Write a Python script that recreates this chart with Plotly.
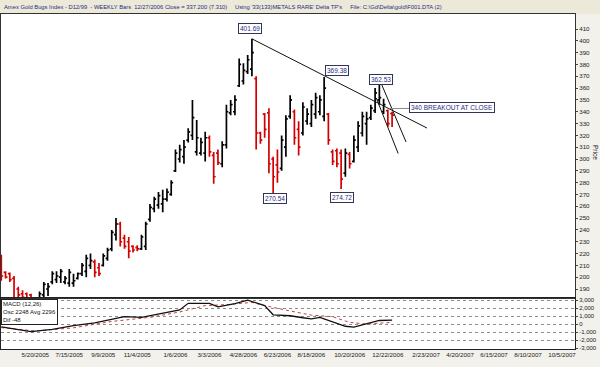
import pandas as pd
import plotly.graph_objects as go

# ---------------- data ----------------
bar_start = "2005-03-25"   # first weekly bar (Fridays)
opens = [218, 204, 203, 199, 190, 186, 186, 185, 172, 176, 185, 190, 196, 198, 200, 196, 195, 195, 199, 203,
         205, 210, 213, 208, 210, 216, 224, 236, 245, 233, 230, 226, 225, 224, 226, 249, 258, 261, 262, 266,
         270, 290, 300, 302, 316, 320, 306, 305, 305, 318, 303, 305, 296, 312, 339, 340, 362, 366, 374, 376,
         368, 322, 338, 339, 300, 295, 292, 310, 336, 340, 325, 322, 332, 330, 338, 340, 336, 338, 306, 307,
         305, 288, 304, 298, 310, 322, 330, 335, 341, 350, 340, 341, 338.5]
highs = [219, 205, 204, 201, 192, 189, 187, 186, 180, 188, 196, 195, 205, 205, 207, 201, 207, 203, 204, 212,
         219, 220, 215, 212, 220, 225, 240, 250, 247, 236, 234, 227, 227, 236, 247, 262, 268, 272, 274, 275,
         282, 308, 312, 316, 326, 350, 333, 318, 323, 320, 306, 308, 315, 346, 350, 354, 385, 381, 388, 401.69,
         370, 323, 339, 343, 302, 308, 320, 337, 354, 342, 332, 348, 343, 350, 356, 354, 369.38, 339, 308, 309,
         308, 309, 306, 320, 332, 340, 340, 346, 360, 362.53, 351, 342, 340]
lows = [197, 199, 196, 178, 176, 175, 172, 170, 165, 172, 180, 184, 194, 195, 195, 194, 192, 192, 198, 201,
        200, 207, 200, 201, 209, 214, 222, 231, 226, 224, 216, 221, 222, 223, 223, 247, 255, 258, 255, 264,
        269, 289, 297, 296, 314, 316, 303, 303, 298, 302, 279, 295, 293, 309, 337, 337, 361, 363, 372, 370,
        308, 313, 318, 288, 270.54, 280, 290, 302, 334, 312, 303, 320, 329, 327, 334, 337, 332, 312, 295, 293,
        274.72, 285, 292, 297, 306, 319, 312, 333, 339, 346, 338, 327, 327]
closes = [201, 200, 198, 181, 185, 183, 180, 174, 176, 186, 194, 192, 203, 201, 205, 199, 204, 197, 203, 210,
          216, 214, 204, 203, 218, 223, 238, 245, 230, 226, 222, 223, 224, 234, 245, 259, 266, 269, 266, 272,
          280, 305, 308, 310, 323, 335, 318, 314, 318, 306, 285, 297, 312, 340, 346, 350, 380, 375, 384, 390,
          322, 316, 325, 296, 285, 289, 316, 334, 350, 318, 310, 344, 338, 346, 352, 350, 360, 316, 298, 296,
          283, 305, 296, 316, 328, 336, 334, 343, 356, 352, 346, 330, 337.2]

macd_dates = ["2005-03-25", "2005-05-13", "2005-06-17", "2005-07-22", "2005-08-26", "2005-09-23",
              "2005-10-14", "2005-11-11", "2005-12-16", "2006-01-13", "2006-01-27", "2006-03-03",
              "2006-03-17", "2006-04-14", "2006-05-05", "2006-06-02", "2006-06-16", "2006-07-14",
              "2006-08-04", "2006-08-18", "2006-09-01", "2006-09-22", "2006-10-13", "2006-10-27",
              "2006-11-17", "2006-12-08", "2006-12-29"]
macd_vals = [-350, -950, -660, -200, 150, 600, 910, 830, 1320, 1750, 2580, 2580, 2150, 2550, 2980,
             2300, 1150, 1030, 780, 640, 830, 320, -280, -400, 40, 440, 480]
signal_dates = ["2005-03-25", "2005-05-20", "2005-07-22", "2005-09-23", "2005-11-25", "2006-01-13",
                "2006-02-24", "2006-03-31", "2006-05-12", "2006-06-02", "2006-07-14", "2006-08-18",
                "2006-09-22", "2006-10-20", "2006-11-17", "2006-12-29"]
signal_vals = [-450, -870, -480, 320, 830, 1500, 2300, 2420, 2700, 2300, 1630, 1110, 910, 200, 0, 200]

trend_main_dates = ["2006-05-12", "2007-02-24 14:00"]
trend_main_prices = [401.69, 326.2]
trend_a_dates = ["2006-12-10", "2007-01-21"]
trend_a_prices = [365.2, 314.4]
trend_b_dates = ["2006-12-03", "2007-01-08"]
trend_b_prices = [351.6, 304.7]
breakout_dates = ["2006-12-25", "2007-01-26 12:00"]
breakout_prices = [342.7, 342.8]

label_texts = ["401.69", "270.54", "369.38", "362.53", "274.72"]
label_dates = ["2006-05-09", "2006-06-19", "2006-09-29", "2006-12-10", "2006-10-07"]
label_prices = [410.8, 266.2, 375.3, 367.7, 267.3]

date_ticks = ["2005-03-25", "2005-05-20", "2005-07-15", "2005-09-09", "2005-11-04", "2006-01-06",
              "2006-03-03", "2006-04-28", "2006-06-23", "2006-08-18", "2006-10-20", "2006-12-22",
              "2007-02-23", "2007-04-20", "2007-06-15", "2007-08-10", "2007-10-05"]
date_labels = ["3/25/2005", "5/20/2005", "7/15/2005", "9/9/2005", "11/4/2005", "1/6/2006", "3/3/2006",
               "4/28/2006", "6/23/2006", "8/18/2006", "10/20/2006", "12/22/2006", "2/23/2007",
               "4/20/2007", "6/15/2007", "8/10/2007", "10/5/2007"]
price_ticks = list(range(190, 420, 10))
macd_ticks = [3000, 2000, 1000, 0, -1000, -2000, -3000]
macd_labels = ["3,000", "2,000", "1,000", "0", "-1,000", "-2,000", "-3,000"]

# ---------------- figure ----------------
dates = pd.date_range(bar_start, periods=len(closes), freq="7D")
FONT = "Liberation Sans, Arial, sans-serif"
NAVY = "#1F2B86"
W, H = 600, 367
ML, MR, MT, MB = 1, 25, 14, 18
split = (349 - 298) / (H - MT - MB)
x_range = ["2005-03-24 12:00", "2007-10-26 10:00"]

fig = go.Figure()
fig.add_trace(go.Ohlc(
    x=dates, open=opens, high=highs, low=lows, close=closes,
    increasing=dict(line=dict(color="#000000", width=1.7)),
    decreasing=dict(line=dict(color="#D40000", width=1.7)),
    tickwidth=0.45, hoverinfo="skip", showlegend=False, xaxis="x", yaxis="y"))

for dx, py, col in [(trend_main_dates, trend_main_prices, "#111111"),
                    (trend_a_dates, trend_a_prices, "#111111"),
                    (trend_b_dates, trend_b_prices, "#111111"),
                    (breakout_dates, breakout_prices, "#8A8A8A")]:
    fig.add_trace(go.Scatter(x=dx, y=py, mode="lines", line=dict(color=col, width=1),
                             hoverinfo="skip", showlegend=False, xaxis="x", yaxis="y"))

fig.add_trace(go.Scatter(x=signal_dates, y=signal_vals, mode="lines",
                         line=dict(color="#C83C3C", width=1, dash="dot"),
                         hoverinfo="skip", showlegend=False, xaxis="x2", yaxis="y2"))
fig.add_trace(go.Scatter(x=macd_dates, y=macd_vals, mode="lines",
                         line=dict(color="#111111", width=1.3),
                         hoverinfo="skip", showlegend=False, xaxis="x2", yaxis="y2"))

annos = []
for t, d, p in zip(label_texts, label_dates, label_prices):
    annos.append(dict(x=d, y=p, xref="x", yref="y", text=t, showarrow=False,
                      font=dict(family=FONT, size=6.5, color=NAVY), bgcolor="#FFFFFF",
                      bordercolor="#333355", borderwidth=1, borderpad=1))
annos.append(dict(x="2007-01-26", y=344, xref="x", yref="y", text="340 BREAKOUT AT CLOSE",
                  xanchor="left", showarrow=False, font=dict(family=FONT, size=6.5, color=NAVY),
                  bgcolor="#FFFFFF", bordercolor="#333355", borderwidth=1, borderpad=1))
annos.append(dict(x=0.002, y=1, xref="paper", yref="paper", yanchor="bottom", xanchor="left", yshift=2,
                  text="Amex Gold Bugs Index - D12/99  - WEEKLY Bars  12/27/2006 Close = 337.200 (7.310)",
                  showarrow=False, font=dict(family=FONT, size=5.8, color=NAVY)))
annos.append(dict(x=(233 - ML) / (W - ML - MR), y=1, xref="paper", yref="paper", yanchor="bottom",
                  xanchor="left", yshift=2,
                  text="Using '33(133)METALS RARE' Delta TP's     File: C:\\Gd\\Delta\\gold\\F001.DTA (2)",
                  showarrow=False, font=dict(family=FONT, size=5.8, color=NAVY)))
annos.append(dict(x=0, y=split, xref="paper", yref="paper", xanchor="left", yanchor="top", yshift=-1,
                  text="MACD (12,26)<br>Osc 2248 Avg 2296<br>Dif -48", align="left", showarrow=False,
                  font=dict(family=FONT, size=6, color="#111111"), bgcolor="#FFFFFF",
                  bordercolor="#222222", borderwidth=1, borderpad=1))
annos.append(dict(x=(596 - ML) / (W - ML - MR), y=(349 - 152) / (H - MT - MB), xref="paper",
                  yref="paper", xanchor="center", yanchor="middle", text="Price", textangle=90,
                  showarrow=False, font=dict(family=FONT, size=6.5, color="#222222")))

tickfont = dict(family=FONT, size=6.2, color="#222222")
fig.update_layout(
    width=W, height=H, margin=dict(l=ML, r=MR, t=MT, b=MB, autoexpand=False),
    paper_bgcolor="#F2F1EB", plot_bgcolor="#FFFFFF",
    showlegend=False, annotations=annos,
    xaxis=dict(domain=[0, 1], anchor="y", type="date", range=x_range, showticklabels=False,
               showgrid=False, zeroline=False, showline=True, linecolor="#333333", mirror=True,
               ticks="", rangeslider=dict(visible=False)),
    yaxis=dict(domain=[split, 1], anchor="x", side="right", range=[182.4, 422.7],
               tickvals=price_ticks, ticktext=[str(v) for v in price_ticks], tickfont=tickfont,
               ticks="outside", ticklen=2, tickcolor="#444444", showgrid=False, zeroline=False,
               showline=True, linecolor="#333333", mirror=True),
    xaxis2=dict(domain=[0, 1], anchor="y2", type="date", range=x_range, matches="x",
                tickvals=date_ticks, ticktext=date_labels, tickfont=tickfont, ticks="",
                showgrid=False, zeroline=False, showline=True, linecolor="#222222", mirror=True,
                rangeslider=dict(visible=False)),
    yaxis2=dict(domain=[0, split], anchor="x2", side="right", range=[-3125, 3250],
                tickvals=macd_ticks, ticktext=macd_labels,
                tickfont=dict(family=FONT, size=6, color="#222222"),
                ticks="outside", ticklen=2, tickcolor="#444444", showgrid=True, gridcolor="#8C8C8C",
                griddash="dot", gridwidth=1, zeroline=False, showline=True, linecolor="#222222",
                mirror=True),
)
fig.add_shape(type="rect", xref="paper", yref="paper", x0=-0.01, x1=1.1, y0=1.0, y1=1.1,
              fillcolor="#ECE9D8", line=dict(width=0), layer="below")

fig.write_html("out.html", config={"displayModeBar": False},
               post_script="document.body.style.margin='0px';")
